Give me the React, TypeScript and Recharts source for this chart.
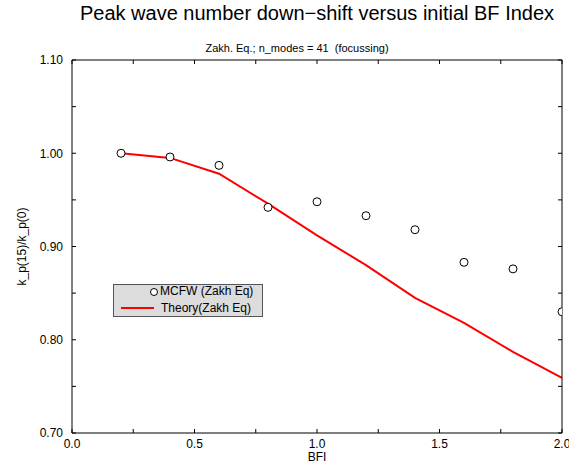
import { ComposedChart, Line, XAxis, YAxis, Label } from 'recharts';

const bfi = [0.2, 0.4, 0.6, 0.8, 1.0, 1.2, 1.4, 1.6, 1.8, 2.0];
const mcfw = [1.0, 0.996, 0.987, 0.942, 0.948, 0.933, 0.918, 0.883, 0.876, 0.83];
const theory = [1.0, 0.995, 0.978, 0.946, 0.912, 0.88, 0.845, 0.818, 0.787, 0.759];

const xTicks = [0, 0.25, 0.5, 0.75, 1.0, 1.25, 1.5, 1.75, 2.0];
const yTicks = [0.7, 0.75, 0.8, 0.85, 0.9, 0.95, 1.0, 1.05, 1.1];

const rows = bfi.map((b, i) => ({ bfi: b, mcfw: mcfw[i], theory: theory[i] }));

const FONT = '"Liberation Sans", Arial, Helvetica, sans-serif';
const tickStyle = { fontSize: 12, fill: '#000', fontFamily: FONT };

const fmtX = (v: number) => (Math.round(v * 100) % 50 === 0 ? v.toFixed(1) : '');
const fmtY = (v: number) => (Math.round(v * 100) % 10 === 0 ? v.toFixed(2) : '');
const blank = () => '';

export default function App() {
  return (
    <div style={{ position: 'absolute', left: 0, top: 0, width: 569, height: 472, background: '#fff', fontFamily: FONT }}>
      <div style={{ position: 'absolute', left: 0, width: 634, top: 2, textAlign: 'center', fontSize: 20, color: '#000' }}>
        Peak wave number down−shift versus initial BF Index
      </div>
      <div style={{ position: 'absolute', left: 0, width: 594, top: 42, textAlign: 'center', fontSize: 11, color: '#000', whiteSpace: 'pre' }}>
        {'Zakh. Eq.; n_modes = 41  (focussing)'}
      </div>

      <ComposedChart width={569} height={472} data={rows} margin={{ top: 59, right: 6, bottom: 0, left: 0 }}>
        <XAxis
          dataKey="bfi"
          type="number"
          domain={[0, 2]}
          ticks={xTicks}
          tickFormatter={fmtX}
          tickSize={-4}
          tickMargin={10}
          height={39}
          interval={0}
          stroke="#000"
          tick={tickStyle}
          allowDataOverflow
        >
          <Label value="BFI" position="insideBottom" offset={11} style={{ fontSize: 12, fill: '#000', fontFamily: FONT }} />
        </XAxis>
        <XAxis
          xAxisId="top"
          dataKey="bfi"
          orientation="top"
          type="number"
          domain={[0, 2]}
          ticks={xTicks}
          tickFormatter={blank}
          tickSize={-4}
          height={1}
          interval={0}
          stroke="#000"
          allowDataOverflow
        />
        <YAxis
          type="number"
          domain={[0.7, 1.1]}
          ticks={yTicks}
          tickFormatter={fmtY}
          tickSize={-4}
          tickMargin={13}
          width={72}
          interval={0}
          stroke="#000"
          tick={tickStyle}
          allowDataOverflow
        >
          <Label
            value="k_p(15)/k_p(0)"
            angle={-90}
            position="insideLeft"
            offset={22}
            style={{ fontSize: 12, fill: '#000', fontFamily: FONT, textAnchor: 'middle' }}
          />
        </YAxis>
        <YAxis
          yAxisId="right"
          orientation="right"
          type="number"
          domain={[0.7, 1.1]}
          ticks={yTicks}
          tickFormatter={blank}
          tickSize={-4}
          width={1}
          interval={0}
          stroke="#000"
          allowDataOverflow
        />
        {/* invisible series so the top/right frame axes get drawn */}
        <Line
          dataKey="theory"
          xAxisId="top"
          yAxisId="right"
          stroke="none"
          dot={false}
          activeDot={false}
          legendType="none"
          isAnimationActive={false}
        />
        <Line
          dataKey="theory"
          type="linear"
          stroke="#ff0000"
          strokeWidth={2}
          dot={false}
          isAnimationActive={false}
        />
        <Line
          dataKey="mcfw"
          type="linear"
          stroke="none"
          dot={{ r: 4, stroke: '#000', strokeWidth: 1, fill: '#fff' }}
          activeDot={false}
          isAnimationActive={false}
        />
      </ComposedChart>

      <div
        style={{
          position: 'absolute',
          left: 113,
          top: 284,
          width: 148,
          height: 31,
          background: '#dcdcdc',
          border: '1px solid #555',
          fontSize: 12,
          color: '#000',
          overflow: 'hidden',
        }}
      >
        <div style={{ position: 'absolute', left: 36, top: 3, width: 8, height: 8, boxSizing: 'border-box', border: '1px solid #000', borderRadius: '50%', background: '#fff' }} />
        <div style={{ position: 'absolute', left: 46, top: -1, whiteSpace: 'nowrap' }}>MCFW (Zakh Eq)</div>
        <div style={{ position: 'absolute', left: 7, top: 22, width: 33, height: 2, background: '#ff0000' }} />
        <div style={{ position: 'absolute', left: 47, top: 16, whiteSpace: 'nowrap' }}>Theory(Zakh Eq)</div>
      </div>
    </div>
  );
}
